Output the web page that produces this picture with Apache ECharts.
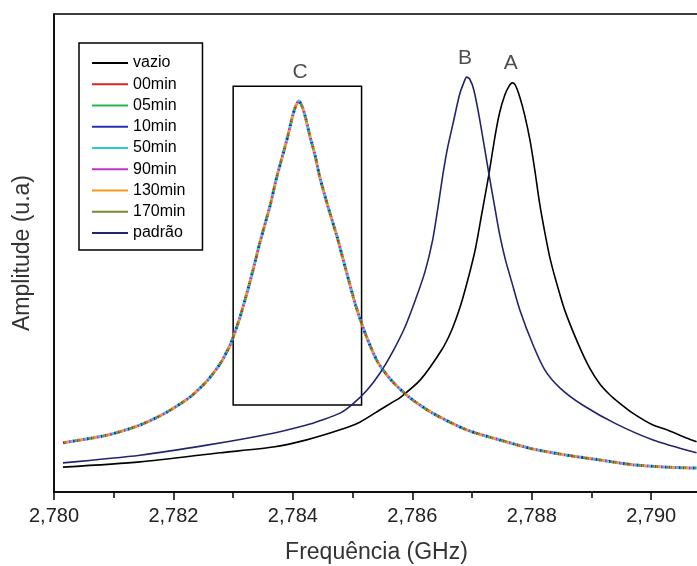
<!DOCTYPE html>
<html>
<head>
<meta charset="utf-8">
<script src="https://cdn.jsdelivr.net/npm/echarts/dist/echarts.min.js"></script>
<style>
  html, body { margin: 0; padding: 0; background: #fff; }
  #chart { width: 697px; height: 566px; }
</style>
</head>
<body>
<div id="chart"></div>
<script>
// frequências em MHz (eixo rotulado em GHz)
const freqVazio = [2780.15, 2781.44, 2782.78, 2783.67, 2784.23, 2784.79, 2785.12, 2785.46, 2785.67, 2785.79, 2786.13, 2786.49, 2786.66, 2786.81, 2786.95, 2787.06, 2787.16, 2787.28, 2787.38, 2787.46, 2787.55, 2787.62, 2787.67, 2787.72, 2787.80, 2787.88, 2787.97, 2788.05, 2788.13, 2788.22, 2788.30, 2788.40, 2788.55, 2788.77, 2788.97, 2789.14, 2789.31, 2789.47, 2789.69, 2790.03, 2790.26, 2790.59, 2790.76];
const ampVazio = [5.2, 6.3, 8.2, 9.4, 10.9, 13.0, 14.6, 17.2, 18.8, 19.7, 23.4, 29.7, 33.9, 39.1, 45.4, 51.1, 58.0, 66.3, 74.1, 79.3, 83.1, 84.9, 85.6, 85.2, 82.6, 78.9, 73.6, 67.4, 60.5, 54.2, 49.2, 44.4, 38.1, 31.2, 25.9, 22.6, 20.3, 18.6, 16.5, 14.0, 13.0, 11.3, 10.5];

const freqPadrao = [2780.15, 2781.44, 2782.56, 2783.67, 2784.23, 2784.45, 2784.79, 2785.00, 2785.24, 2785.46, 2785.67, 2785.87, 2786.04, 2786.21, 2786.34, 2786.43, 2786.51, 2786.59, 2786.68, 2786.79, 2786.86, 2786.91, 2786.96, 2787.03, 2787.13, 2787.28, 2787.38, 2787.46, 2787.56, 2787.67, 2787.80, 2788.02, 2788.22, 2788.47, 2788.85, 2789.42, 2790.03, 2790.76];
const ampPadrao = [6.1, 7.7, 9.8, 12.3, 14.0, 14.9, 16.5, 18.4, 21.3, 24.9, 29.3, 34.3, 39.8, 46.0, 52.7, 59.6, 66.3, 72.0, 77.0, 83.1, 85.6, 86.8, 86.4, 84.1, 77.8, 66.7, 59.6, 54.0, 48.5, 43.7, 38.1, 30.8, 25.5, 21.8, 18.2, 14.2, 10.9, 8.2];

// as medidas com tempo ficam sobrepostas (pico C)
const freqTempo = [2780.15, 2780.89, 2781.44, 2781.89, 2782.28, 2782.56, 2782.78, 2782.95, 2783.11, 2783.28, 2783.45, 2783.62, 2783.73, 2783.83, 2783.92, 2784.00, 2784.05, 2784.10, 2784.15, 2784.20, 2784.28, 2784.37, 2784.45, 2784.59, 2784.74, 2784.89, 2785.05, 2785.22, 2785.42, 2785.66, 2785.96, 2786.34, 2786.91, 2787.46, 2788.02, 2788.59, 2789.14, 2789.69, 2790.26, 2790.76];
const ampTempo = [10.3, 11.9, 14.0, 16.7, 19.9, 23.2, 26.8, 30.8, 36.4, 43.9, 52.3, 60.0, 65.9, 70.5, 74.7, 78.9, 80.8, 81.8, 80.8, 78.9, 74.7, 70.5, 65.9, 59.6, 53.4, 46.4, 39.1, 32.9, 27.2, 23.2, 19.7, 16.5, 13.0, 10.9, 9.0, 7.7, 6.7, 5.7, 5.2, 5.0];

const nomesTempo = ['00min', '05min', '10min', '50min', '90min', '130min', '170min'];
const coresTempo = ['#d02828', '#22b848', '#2830b0', '#30c8d8', '#c030c0', '#f09a20', '#7a8a30'];

const legendaNomes = ['vazio', '00min', '05min', '10min', '50min', '90min', '130min', '170min', 'padrão'];

const xTicks = [2780, 2782, 2784, 2786, 2788, 2790];

// retângulo em volta do pico C e as letras dos picos
const caixaC = [[2783.00, 18.2], [2785.15, 84.9]];
const rotuloTexto = ['C', 'B', 'A'];
const rotuloX = [2784.12, 2786.88, 2787.65];
const rotuloY = [87.9, 90.8, 89.8];

const fonte = "'Liberation Sans', Arial, sans-serif";
const pares = (xs, ys) => xs.map((x, i) => [x, ys[i]]);

const chart = echarts.init(document.getElementById('chart'), null, { renderer: 'canvas' });

const series = [];
series.push({
  name: 'vazio',
  type: 'line',
  data: pares(freqVazio, ampVazio),
  symbol: 'none',
  smooth: 0.25,
  lineStyle: { color: '#000', width: 1.6 },
  itemStyle: { color: '#000' },
  z: 3,
  markArea: {
    silent: true,
    itemStyle: { color: 'rgba(0,0,0,0)', borderColor: '#000', borderWidth: 1.5 },
    data: [[{ coord: caixaC[0] }, { coord: caixaC[1] }]]
  }
});
nomesTempo.forEach((nome, i) => {
  series.push({
    name: nome,
    type: 'line',
    data: pares(freqTempo, ampTempo),
    symbol: 'none',
    smooth: 0.25,
    lineStyle: { color: coresTempo[i], width: 3, type: [2, 12], dashOffset: i * 2, cap: 'butt' },
    itemStyle: { color: coresTempo[i] },
    z: 4
  });
});
series.push({
  name: 'padrão',
  type: 'line',
  data: pares(freqPadrao, ampPadrao),
  symbol: 'none',
  smooth: 0.25,
  lineStyle: { color: '#24246e', width: 1.6 },
  itemStyle: { color: '#24246e' },
  z: 3
});
series.push({
  name: 'rotulos',
  type: 'scatter',
  data: rotuloTexto.map((t, i) => ({ name: t, value: [rotuloX[i], rotuloY[i]] })),
  symbolSize: 0,
  silent: true,
  label: {
    show: true,
    position: 'inside',
    formatter: '{b}',
    fontFamily: fonte,
    fontSize: 21,
    color: '#222'
  }
});

const option = {
  animation: false,
  backgroundColor: '#fff',
  grid: {
    left: 54, top: 14, right: -2, bottom: 74,
    outerBoundsMode: 'none',
    containLabel: false,
    show: true, borderColor: '#000', borderWidth: 1.5, backgroundColor: 'transparent'
  },
  legend: {
    data: legendaNomes,
    orient: 'vertical',
    left: 79,
    top: 43,
    padding: [12, 17, 9, 13],
    icon: 'rect',
    itemWidth: 36,
    itemHeight: 2,
    itemGap: 5.25,
    borderColor: '#000',
    borderWidth: 1.5,
    selectedMode: false,
    textStyle: { fontFamily: fonte, fontSize: 16, lineHeight: 16, color: '#000' }
  },
  xAxis: {
    type: 'value',
    min: xTicks[0],
    max: 2790.80,
    interval: 2,
    name: 'Frequência (GHz)',
    nameLocation: 'middle',
    nameGap: 49,
    nameTextStyle: { fontFamily: fonte, fontSize: 23, color: '#333' },
    axisLine: { show: true, lineStyle: { color: '#000', width: 1.5 } },
    axisTick: { show: true, inside: false, length: 8, lineStyle: { color: '#000', width: 1.5 } },
    minorTick: { show: true, splitNumber: 2, length: 6, lineStyle: { color: '#000', width: 1.5 } },
    splitLine: { show: false },
    minorSplitLine: { show: false },
    axisLabel: {
      margin: 14,
      showMaxLabel: false,
      fontFamily: fonte,
      fontSize: 20,
      color: '#222',
      formatter: v => (v / 1000).toFixed(3).replace('.', ',')
    }
  },
  yAxis: {
    type: 'value',
    min: 0,
    max: 100,
    name: 'Amplitude (u.a)',
    nameLocation: 'middle',
    nameRotate: 90,
    nameGap: 20,
    nameTextStyle: { fontFamily: fonte, fontSize: 23, color: '#333' },
    axisLine: { show: true, lineStyle: { color: '#000', width: 1.5 } },
    axisTick: { show: false },
    axisLabel: { show: false },
    splitLine: { show: false }
  },
  series: series
};

chart.setOption(option);
</script>
</body>
</html>
